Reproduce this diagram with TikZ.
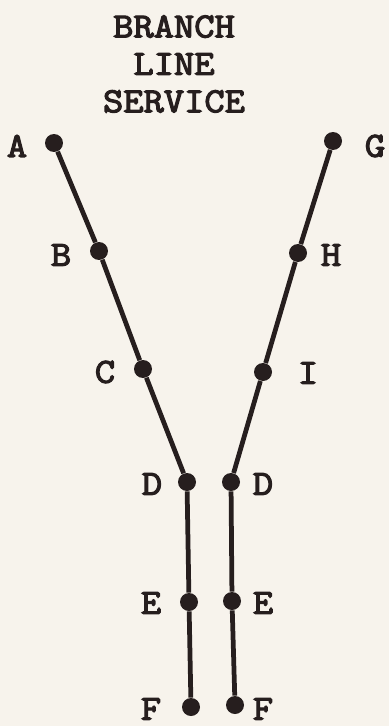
\documentclass[tikz,border=0pt]{standalone}
\usepackage{fontspec}
\newfontfamily\stopfont{Latin Modern Mono}[FakeStretch=1.12, FakeBold=3.5]
\usetikzlibrary{positioning}
\definecolor{PaperCream}{RGB}{247,243,236}
\definecolor{InkDark}{RGB}{38,30,30}

\begin{document}
\begin{tikzpicture}[x=0.02cm, y=-0.02cm,
    stop/.style={circle, fill=InkDark, inner sep=0pt, minimum size=0.36cm},
    tag/.style={font=\stopfont\fontsize{20}{21.3}\selectfont, text=InkDark, inner sep=0pt},
    title/.style={tag, align=center},
    track/.style={draw=InkDark, line width=0.095cm}]

    % Background
    \fill [PaperCream] (0,0) rectangle (389,726);
    \useasboundingbox (0,0) rectangle (389,726);

    % Title
    \node [title] (head) at (174,64) {BRANCH\\LINE\\SERVICE};

    % Stops, left branch
    \node [stop] (a) at (54,143) {};
    \node [stop] (b) at (99,251) {};
    \node [stop] (c) at (143,369) {};
    \node [stop] (dl) at (187,482) {};
    \node [stop] (el) at (189,602) {};
    \node [stop] (fl) at (191,707) {};

    % Stops, right branch
    \node [stop] (g) at (333,141) {};
    \node [stop] (h) at (298,253) {};
    \node [stop] (i) at (263,372) {};
    \node [stop] (dr) at (231,482) {};
    \node [stop] (er) at (232,601) {};
    \node [stop] (fr) at (235,705) {};

    % Labels
    \node [tag] (la) at (17,146) {A};
    \node [tag] (lb) at (61,255) {B};
    \node [tag] (lc) at (105,372) {C};
    \node [tag] (ldl) at (152,484) {D};
    \node [tag] (lel) at (151,603) {E};
    \node [tag] (lfl) at (151,709) {F};
    \node [tag] (lg) at (375,146) {G};
    \node [tag] (lh) at (331,255) {H};
    \node [tag] (li) at (308,373) {I};
    \node [tag] (ldr) at (263,484) {D};
    \node [tag] (ler) at (263,603) {E};
    \node [tag] (lfr) at (263,709) {F};

    % Tracks
    \draw [track] (a) -- (b) -- (c) -- (dl) -- (el) -- (fl);
    \draw [track] (g) -- (h) -- (i) -- (dr) -- (er) -- (fr);
\end{tikzpicture}
\end{document}
